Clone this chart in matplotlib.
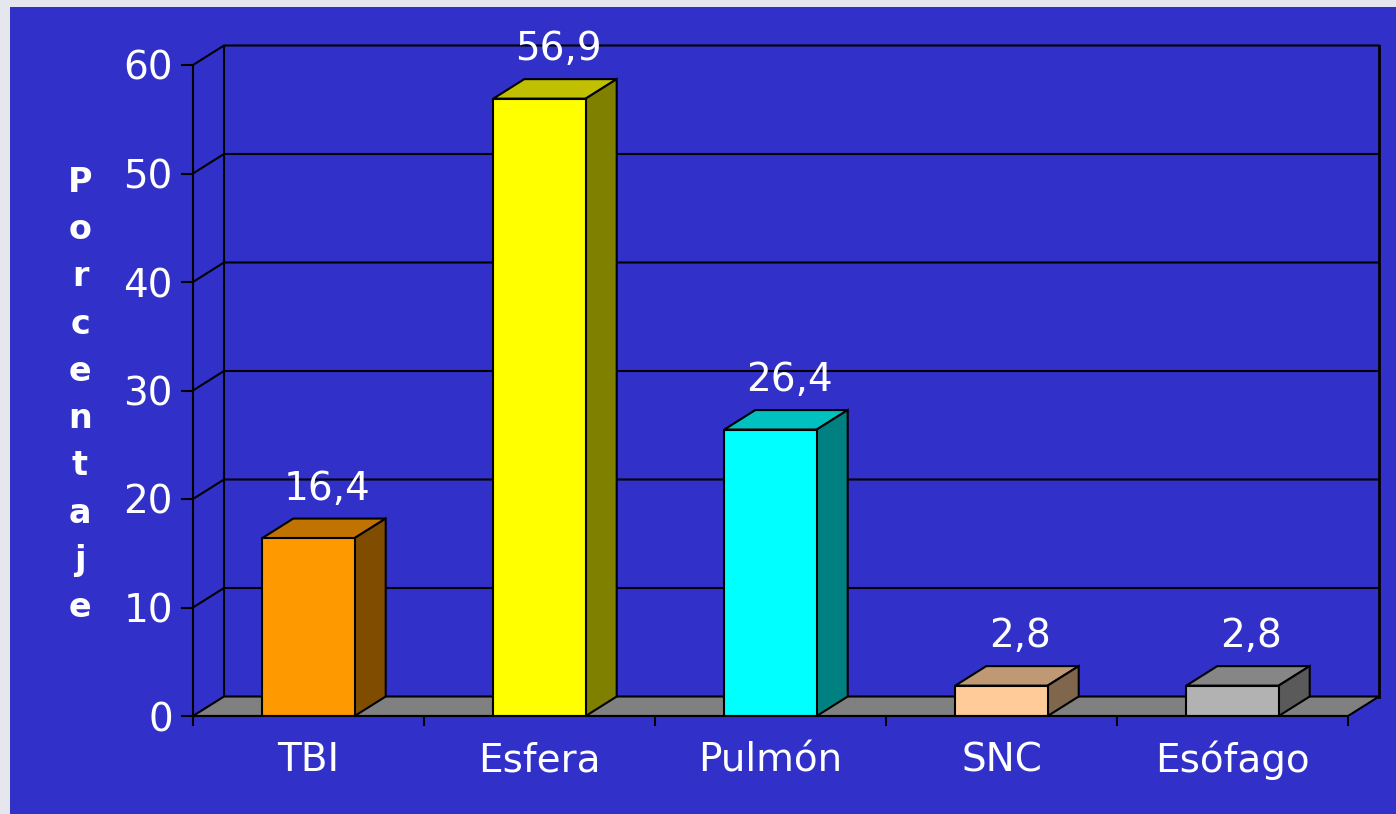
import numpy as np
import matplotlib
matplotlib.use("Agg")
import matplotlib.pyplot as plt
from matplotlib.patches import Polygon, Rectangle

# data
categories = ["TBI", "Esfera", "Pulmón", "SNC", "Esófago"]
values = [16.4, 56.9, 26.4, 2.8, 2.8]
labels = ["16,4", "56,9", "26,4", "2,8", "2,8"]
front_colors = ["#FF9900", "#FFFF00", "#00FFFF", "#FFCC99", "#B2B2B2"]
top_colors = ["#C07300", "#C0C000", "#00C0C0", "#BF9973", "#868686"]
side_colors = ["#804D00", "#808000", "#008080", "#80664D", "#5A5A5A"]
yticks = [0, 10, 20, 30, 40, 50, 60]

BLUE = "#3131C9"
W, H = 1396, 814
px_x = 231.0     # pixels per category
px_y = 10.85     # pixels per percent
dx = 31 / px_x   # depth offset in data units
dy = 19.5 / px_y
bw = 0.4         # bar width

fig = plt.figure(figsize=(W / 100, H / 100), dpi=100, facecolor="#E6E6EE")
fig.patches.append(Rectangle((10 / W, 0), 1 - 10 / W, 1 - 7 / H,
                             transform=fig.transFigure, facecolor=BLUE,
                             edgecolor="none", zorder=-10))

left, right, bottom, top = 193, 1392, 716, 40
ax = fig.add_axes([left / W, (H - bottom) / H, (right - left) / W, (bottom - top) / H])
ax.set_facecolor("none")
ax.set_xlim(0, (right - left) / px_x)
ax.set_ylim(0, (bottom - top) / px_y)
n = len(categories)
ymax = yticks[-1]

# back wall grid + diagonals
for v in yticks[1:]:
    ax.plot([0, dx, n + dx], [v, v + dy, v + dy], color="black", lw=1.5, zorder=1)
ax.plot([dx, dx], [dy, ymax + dy], color="black", lw=1.5, zorder=1)
ax.plot([n + dx, n + dx], [dy, ymax + dy], color="black", lw=2, zorder=1)

# floor
ax.add_patch(Polygon([(0, 0), (n, 0), (n + dx, dy), (dx, dy)], closed=True,
                     facecolor="#808080", edgecolor="black", lw=1.5, zorder=2))

# bars
for i, v in enumerate(values):
    x0 = i + 0.5 - bw / 2
    x1 = x0 + bw
    ax.add_patch(Polygon([(x0, v), (x1, v), (x1 + dx, v + dy), (x0 + dx, v + dy)],
                         facecolor=top_colors[i], edgecolor="black", lw=1.5, zorder=3))
    ax.add_patch(Polygon([(x1, 0), (x1 + dx, dy), (x1 + dx, v + dy), (x1, v)],
                         facecolor=side_colors[i], edgecolor="black", lw=1.5, zorder=3))
    ax.add_patch(Rectangle((x0, 0), bw, v, facecolor=front_colors[i],
                           edgecolor="black", lw=1.5, zorder=4))
    ax.text(i + 0.5 + dx * 0.6, v + dy + 1.0, labels[i], ha="center", va="bottom",
            color="white", fontsize=28, zorder=5)

# axes
for s in ["top", "right"]:
    ax.spines[s].set_visible(False)
ax.spines["left"].set_bounds(0, ymax)
ax.spines["bottom"].set_bounds(0, n)
ax.spines["left"].set_linewidth(1.5)
ax.spines["bottom"].set_linewidth(1.5)
ax.spines["left"].set_zorder(6)
ax.spines["bottom"].set_zorder(6)
ax.set_yticks(yticks)
ax.set_yticklabels([str(t) for t in yticks])
ax.tick_params(axis="y", length=8.5, width=1.5, pad=6, colors="black",
               labelcolor="white", labelsize=28)
ax.set_xticks(np.arange(n + 1))
ax.set_xticklabels([])
ax.set_xticks(np.arange(n) + 0.5, minor=True)
ax.set_xticklabels(categories, minor=True)
ax.tick_params(axis="x", which="major", length=7, width=1.5, colors="black")
ax.tick_params(axis="x", which="minor", length=0, pad=18, labelcolor="white",
               labelsize=28)

fig.text(80 / W, 1 - 395 / H, "\n".join("Porcentaje"), ha="center", va="center",
         color="white", fontsize=24, fontweight="bold", linespacing=1.55)

fig.savefig("out.png", dpi=100, facecolor=fig.get_facecolor())
